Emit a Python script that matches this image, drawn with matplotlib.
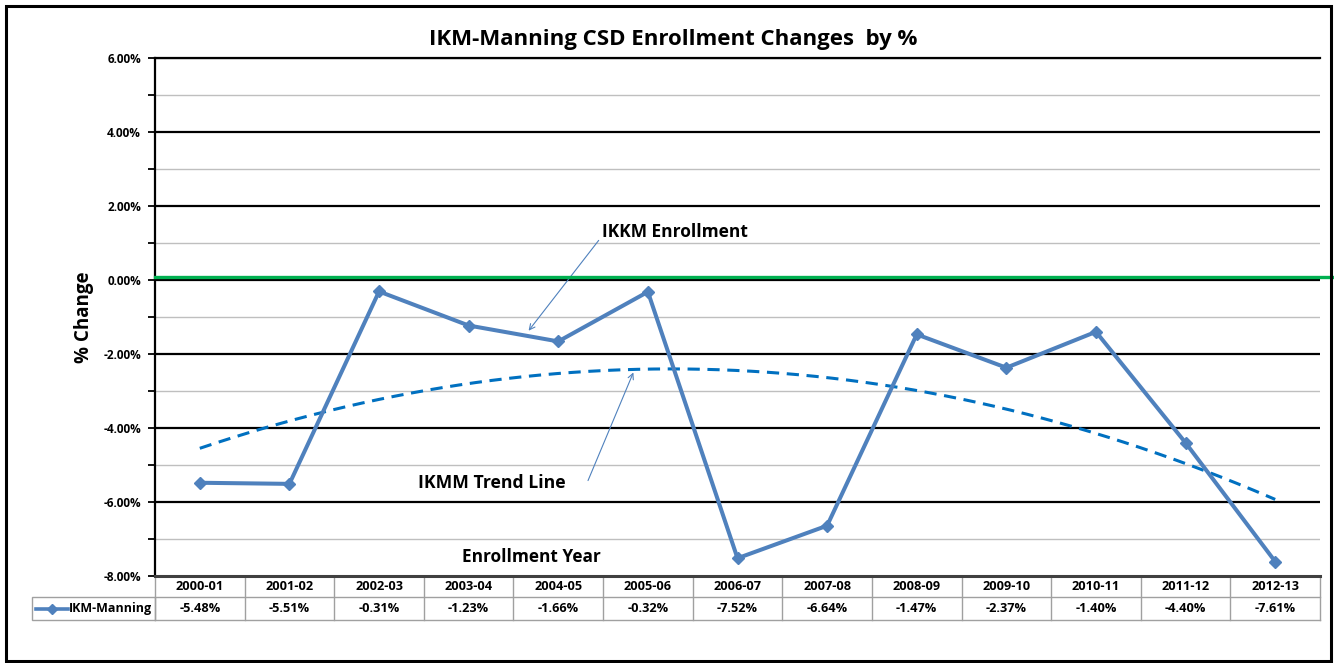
import numpy as np
import matplotlib
matplotlib.use('Agg')
import matplotlib.pyplot as plt
from matplotlib.lines import Line2D
from matplotlib.patches import Rectangle
from matplotlib.transforms import blended_transform_factory

plt.rcParams['font.family'] = ['Open Sans', 'DejaVu Sans']

years = ['2000-01', '2001-02', '2002-03', '2003-04', '2004-05', '2005-06', '2006-07',
         '2007-08', '2008-09', '2009-10', '2010-11', '2011-12', '2012-13']
changes = [-5.48, -5.51, -0.31, -1.23, -1.66, -0.32, -7.52, -6.64, -1.47, -2.37, -1.40, -4.40, -7.61]
series_name = 'IKM-Manning'
green_level = 0.07

W, H = 1334, 663
fig = plt.figure(figsize=(W / 100, H / 100), dpi=100)


def fx(px):
    return px / W


def fy(py):
    return 1 - py / H


ax_l, ax_r, ax_t, ax_b = 155, 1320, 58, 576
ax = fig.add_axes([fx(ax_l), fy(ax_b), fx(ax_r - ax_l), fy(ax_t) - fy(ax_b)])

x = np.arange(1, len(years) + 1)
blue = '#4F81BD'

# gridlines
for v in np.arange(-7, 6, 2):
    ax.axhline(v, color='#BFBFBF', lw=1, zorder=1)
for v in np.arange(-6, 7, 2):
    ax.axhline(v, color='black', lw=1.6, zorder=1)

ax.plot(x, changes, color=blue, lw=2.9, marker='D', ms=6.5, zorder=4)

# polynomial (order 2) trend line like excel
coef = np.polyfit(x, changes, 2)
xs = np.linspace(1, 13, 200)
ax.plot(xs, np.polyval(coef, xs), color='#0070C0', lw=2.2, dashes=(4, 2.5), zorder=3)

ax.axhline(green_level, xmin=0, xmax=(W - ax_l) / (ax_r - ax_l), color='#00B050',
           lw=2.4, clip_on=False, zorder=5)

ax.set_xlim(0.5, 13.5)
ax.set_ylim(-8, 6)
ax.set_yticks(np.arange(-8, 7, 2))
ax.set_yticklabels(['%.2f%%' % v for v in np.arange(-8, 7, 2)], fontsize=8.5, fontweight='bold')
ax.set_yticks(np.arange(-7, 6, 2), minor=True)
ax.tick_params(axis='y', which='both', direction='out', length=5, width=1.3, pad=5)
ax.set_xticks([])
ax.spines['right'].set_visible(False)
ax.spines['top'].set_linewidth(1.6)
ax.spines['left'].set_linewidth(1.6)
ax.spines['bottom'].set_linewidth(2.2)
ax.spines['bottom'].set_color('#404040')

ax.set_ylabel('% Change', fontsize=13.5, fontweight='bold', labelpad=7)

fig.text(fx(673), fy(40), 'IKM-Manning CSD Enrollment Changes  by %', ha='center', va='center',
         fontsize=16, fontweight='bold')

# annotations
ax.annotate('', xy=(4.65, -1.43), xytext=(5.47, 1.13),
            arrowprops=dict(arrowstyle='->', color=blue, lw=0.8))
ax.text(6.3, 1.3, 'IKKM Enrollment', fontsize=12.5, fontweight='bold', va='center', ha='center')
ax.annotate('', xy=(5.85, -2.43), xytext=(5.32, -5.49),
            arrowprops=dict(arrowstyle='->', color=blue, lw=0.8))
ax.text(4.26, -5.5, 'IKMM Trend Line', fontsize=12.7, fontweight='bold', va='center', ha='center')
ax.text(4.7, -7.5, 'Enrollment Year', fontsize=12.4, fontweight='bold', va='center', ha='center')

# data table under the axis
tr = blended_transform_factory(ax.transData, fig.transFigure)
grid_c = '#A0A0A0'
row_top, row_mid, row_bot = fy(577), fy(597), fy(620)
for i in range(len(years) + 1):
    ax.add_line(Line2D([0.5 + i, 0.5 + i], [row_top, row_bot], transform=tr, color=grid_c,
                       lw=1, clip_on=False))
for yy in [row_mid, row_bot]:
    ax.add_line(Line2D([0.5, 13.5], [yy, yy], transform=tr, color=grid_c, lw=1, clip_on=False))
for xi, yr, val in zip(x, years, changes):
    ax.text(xi, (row_top + row_mid) / 2, yr, transform=tr, ha='center', va='center',
            fontsize=9.2, fontweight='bold')
    ax.text(xi, (row_mid + row_bot) / 2, '%.2f%%' % val, transform=tr, ha='center', va='center',
            fontsize=9.2, fontweight='bold')

# legend cell
fig.add_artist(Rectangle((fx(32), row_bot), fx(ax_l - 32), row_mid - row_bot, fill=False,
                         edgecolor=grid_c, lw=1))
ymid = (row_mid + row_bot) / 2
fig.add_artist(Line2D([fx(36), fx(68)], [ymid, ymid], color=blue, lw=2.6))
fig.add_artist(Line2D([fx(52)], [ymid], color=blue, marker='D', ms=5))
fig.text(fx(69), ymid, series_name, ha='left', va='center', fontsize=9, fontweight='bold')

# outer frame
fig.add_artist(Rectangle((fx(6), fy(661)), fx(1325), fy(6) - fy(661), fill=False,
                         edgecolor='black', lw=2.2))

fig.savefig('out.png', dpi=100)
